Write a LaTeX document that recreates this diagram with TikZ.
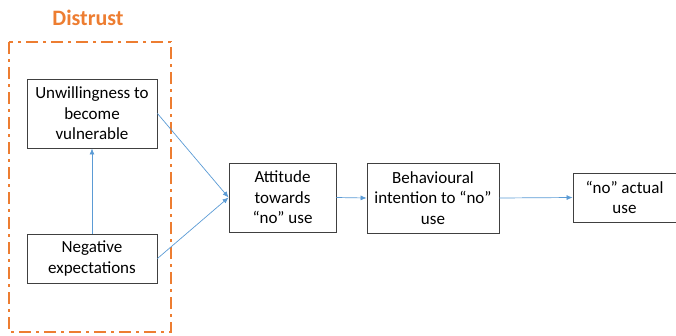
\documentclass[tikz,border=0pt]{standalone}
\usepackage{fontspec}
\setmainfont{Carlito}
\usetikzlibrary{arrows.meta}
\definecolor{orng}{RGB}{237,125,49}
\definecolor{arr}{RGB}{91,155,213}
\definecolor{bord}{RGB}{64,64,64}
\begin{document}
\begin{tikzpicture}[x=1pt,y=-1pt,
  box/.style={draw=bord,line width=0.9pt,align=center,font=\fontsize{17}{20.5}\selectfont,inner sep=0pt},
  conn/.style={draw=arr,line width=0.7pt,-{Latex[length=6pt,width=5pt]}}]
\useasboundingbox (0,0) rectangle (676,335);
\draw[orng,line width=2.6pt,dash pattern=on 12pt off 5pt on 3pt off 5pt] (9,42) rectangle (171,332);
\node[text=orng,font=\fontsize{22}{26}\bfseries\selectfont] (title) at (88,18) {Distrust};
\node[box,minimum width=130pt,minimum height=69pt] (unw) at (92,113.5) {Unwillingness to\\become\\vulnerable};
\node[box,minimum width=130pt,minimum height=49pt] (neg) at (92,258.5) {Negative\\expectations};
\node[box,minimum width=107pt,minimum height=69pt] (att) at (282.5,197.5) {Attitude\\towards\\“no” use};
\node[box,minimum width=132pt,minimum height=70pt] (beh) at (433,198) {Behavioural\\intention to “no”\\use};
\node[box,minimum width=103pt,minimum height=49pt] (act) at (624.5,197.5) {“no” actual\\use};
\draw[conn] (neg.north) -- (unw.south);
\draw[conn] (unw.east) -- (att.west);
\draw[conn] (neg.east) -- (att.west);
\draw[conn] (att.east) -- (beh.west);
\draw[conn] (beh.east) -- (act.west);
\end{tikzpicture}
\end{document}
